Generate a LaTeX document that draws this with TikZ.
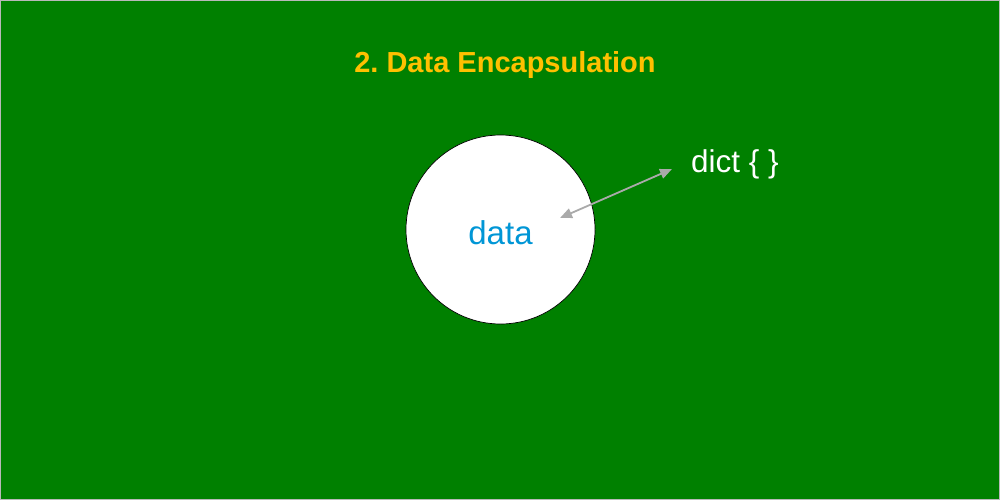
\documentclass[tikz,border=0pt]{standalone}
\usepackage{fontspec}
\setmainfont{Liberation Sans}
\usetikzlibrary{arrows.meta}
\frenchspacing
\definecolor{bggreen}{RGB}{0,128,0}
\definecolor{titlegold}{RGB}{255,192,0}
\definecolor{datablue}{RGB}{0,150,214}
\definecolor{linkgray}{RGB}{170,170,170}
\tikzset{
  title/.style={text=titlegold, font=\fontsize{29}{34}\selectfont\bfseries},
  bubble/.style={circle, draw=black, line width=0.7pt, fill=white, minimum size=189pt, inner sep=0pt},
  inside/.style={text=datablue, font=\fontsize{33}{38}\selectfont},
  label/.style={text=white, font=\fontsize{31.5}{36}\selectfont},
  link/.style={draw=linkgray, line width=1.8pt, {Triangle[length=12pt,width=10pt]}-{Triangle[length=12pt,width=10pt]}}
}
\begin{document}
\begin{tikzpicture}[x=1pt, y=-1pt]
  % canvas
  \fill[bggreen] (0,0) rectangle (1000,500);
  \draw[gray!55, line width=1pt] (0.5,0.5) rectangle (999.5,499.5);
  \useasboundingbox (0,0) rectangle (1000,500);

  \node[title] (heading) at (505,65.5) {2. Data Encapsulation};
  \node[bubble] (store) at (500.5,229.5) {};
  \node[inside] (content) at (500.5,232.5) {data};
  \node[label] (dict) at (735,164) {dict \{ \}};

  \coordinate (inner) at (560,218);
  \coordinate (outer) at (672,169);
  \draw[link] (inner) -- (outer);
\end{tikzpicture}
\end{document}
